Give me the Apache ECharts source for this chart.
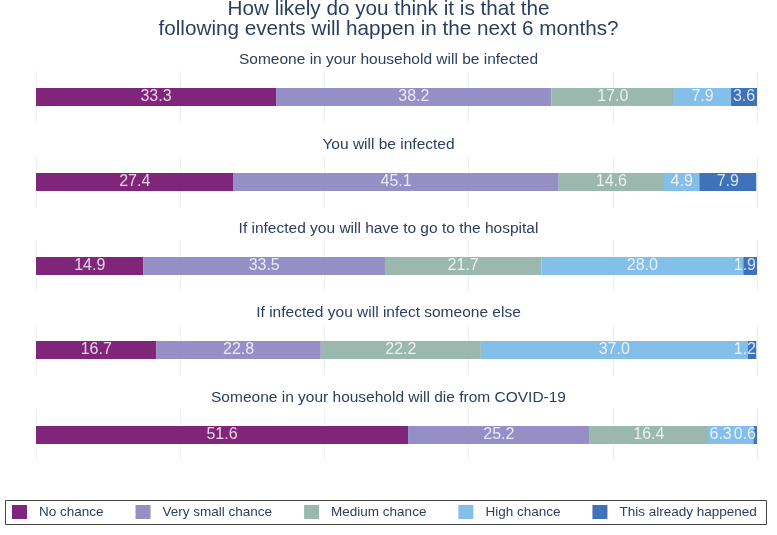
<!DOCTYPE html>
<html>
<head>
<meta charset="utf-8">
<script src="https://cdn.jsdelivr.net/npm/echarts@6/dist/echarts.min.js"></script>
<style>html,body{margin:0;padding:0;background:#fff}#c{width:777px;height:535px}</style>
</head>
<body>
<div id="c"></div>
<script>
var titleLines = ["How likely do you think it is that the", "following events will happen in the next 6 months?"];
var events = [
  "Someone in your household will be infected",
  "You will be infected",
  "If infected you will have to go to the hospital",
  "If infected you will infect someone else",
  "Someone in your household will die from COVID-19"
];
var answers = ["No chance", "Very small chance", "Medium chance", "High chance", "This already happened"];
var noChance        = [33.3, 27.4, 14.9, 16.7, 51.6];
var verySmallChance = [38.2, 45.1, 33.5, 22.8, 25.2];
var mediumChance    = [17.0, 14.6, 21.7, 22.2, 16.4];
var highChance      = [7.9, 4.9, 28.0, 37.0, 6.3];
var alreadyHappened = [3.6, 7.9, 1.9, 1.2, 0.6];
var seriesValues = [noChance, verySmallChance, mediumChance, highChance, alreadyHappened];

var colors = ["#80267a", "#958fc6", "#9ab8ad", "#84bfe9", "#3e73b9"];
var textColor = "#2a3f5f";
var font = 'Liberation Sans, Arial, sans-serif';
var labelSize = 16;
var gridLeft = 36, gridRight = 20;
var panelTops = [71, 156, 240, 324, 409];
var panelH = 52;

var chart = echarts.init(document.getElementById('c'));
var plotW = chart.getWidth() - gridLeft - gridRight;

// keep value labels inside the plot: push them left from the bar end if needed
var ctx = document.createElement('canvas').getContext('2d');
ctx.font = labelSize + 'px ' + font;
var offsets = events.map(function (ev, i) {
  var centers = [], widths = [], cum = 0;
  answers.forEach(function (a, j) {
    var v = seriesValues[j][i];
    centers.push((cum + v / 2) / 100 * plotW);
    widths.push(ctx.measureText(v.toFixed(1)).width);
    cum += v;
  });
  var offs = [0, 0, 0, 0, 0];
  var limit = plotW - 1;
  for (var j = answers.length - 1; j >= 0; j--) {
    var right = centers[j] + widths[j] / 2;
    if (right > limit) offs[j] = limit - right;
    limit = centers[j] + offs[j] - widths[j] / 2 - 2;
  }
  return offs;
});

var titles = [];
titleLines.forEach(function (t, k) {
  titles.push({
    text: t, left: 'center', top: k === 0 ? -1 : 19, padding: 0,
    textStyle: {fontFamily: font, fontSize: 20.7, fontWeight: 'normal', color: textColor}
  });
});
var grids = [], xAxes = [], yAxes = [], series = [];
events.forEach(function (ev, i) {
  titles.push({
    text: ev, left: 'center', top: panelTops[i] - 19, padding: 0,
    textStyle: {fontFamily: font, fontSize: 15.5, fontWeight: 'normal', color: textColor}
  });
  grids.push({left: gridLeft, right: gridRight, top: panelTops[i], height: panelH});
  xAxes.push({
    type: 'value', gridIndex: i, min: 0, max: 100, interval: 20,
    axisLine: {show: false}, axisTick: {show: false}, axisLabel: {show: false},
    splitLine: {show: true, lineStyle: {color: '#edf0f4', width: 1}}
  });
  yAxes.push({
    type: 'category', gridIndex: i, data: [ev],
    axisLine: {show: false}, axisTick: {show: false}, axisLabel: {show: false}
  });
  var cum = 0;
  var labelPts = [];
  answers.forEach(function (a, j) {
    var v = seriesValues[j][i];
    series.push({
      type: 'bar', name: a, stack: 's' + i, xAxisIndex: i, yAxisIndex: i,
      data: [v], barWidth: 18,
      itemStyle: {color: colors[j]},
      label: {show: false},
      emphasis: {disabled: true}, animation: false
    });
    labelPts.push({value: [cum + v / 2, ev], raw: v});
    cum += v;
  });
  var offs = offsets[i];
  series.push({
    type: 'scatter', xAxisIndex: i, yAxisIndex: i, symbol: 'circle', symbolSize: 2,
    itemStyle: {color: 'rgba(0,0,0,0)'}, clip: false,
    data: labelPts, z: 10, silent: true, animation: false,
    label: {show: true, position: 'inside', color: '#fff', fontSize: labelSize, fontFamily: font,
      formatter: function (p) { return p.data.raw.toFixed(1); }},
    labelLayout: function (p) { return {dx: offs[p.dataIndex], hideOverlap: false}; },
    emphasis: {disabled: true}
  });
});

chart.setOption({
  animation: false,
  color: colors,
  title: titles,
  grid: grids,
  xAxis: xAxes,
  yAxis: yAxes,
  series: series,
  legend: {
    data: answers, left: 12, top: 505, padding: 0,
    itemWidth: 15, itemHeight: 14, itemGap: 32, icon: 'rect',
    textStyle: {fontFamily: font, fontSize: 13.5, color: textColor, padding: [0, 0, 0, 7]}
  },
  graphic: [{
    type: 'rect', shape: {x: 5.5, y: 500.5, width: 761, height: 24},
    style: {fill: 'none', stroke: '#444', lineWidth: 1}, silent: true
  }]
});
</script>
</body>
</html>
